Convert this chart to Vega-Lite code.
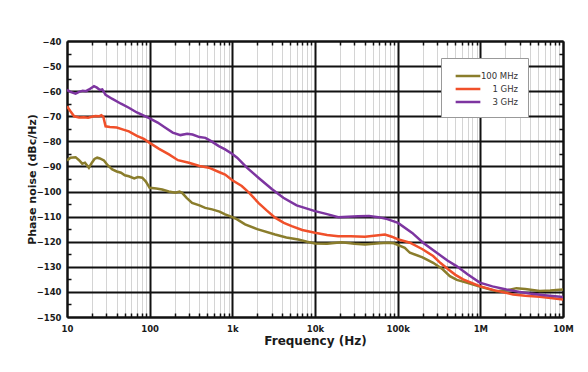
{
"$schema": "https://vega.github.io/schema/vega-lite/v6.json",
"width": 496, "height": 276,
"autosize": {"type": "none"},
"padding": {"left": 67, "top": 41, "right": 25, "bottom": 55},
"background": "white",
"config": {"font": "DejaVu Sans", "view": {"stroke": null}},
"data": {"values": [
{"s":"100 MHz","f":10,"p":-87.6},{"s":"100 MHz","f":11,"p":-86.5},{"s":"100 MHz","f":12.7,"p":-86.3},{"s":"100 MHz","f":14,"p":-87.5},{"s":"100 MHz","f":15.3,"p":-88.9},{"s":"100 MHz","f":16.5,"p":-88.5},{"s":"100 MHz","f":18.4,"p":-90.5},{"s":"100 MHz","f":20,"p":-88.5},{"s":"100 MHz","f":21.5,"p":-87},{"s":"100 MHz","f":23.2,"p":-86.5},{"s":"100 MHz","f":25,"p":-86.8},{"s":"100 MHz","f":28,"p":-87.6},{"s":"100 MHz","f":31,"p":-89.5},{"s":"100 MHz","f":35.3,"p":-91.2},{"s":"100 MHz","f":40,"p":-92},{"s":"100 MHz","f":45,"p":-92.5},{"s":"100 MHz","f":50,"p":-93.5},{"s":"100 MHz","f":56,"p":-93.9},{"s":"100 MHz","f":65,"p":-94.8},{"s":"100 MHz","f":72,"p":-94.2},{"s":"100 MHz","f":81.3,"p":-94.5},{"s":"100 MHz","f":90,"p":-96},{"s":"100 MHz","f":100,"p":-98.5},{"s":"100 MHz","f":120,"p":-98.8},{"s":"100 MHz","f":141.7,"p":-99.2},{"s":"100 MHz","f":170,"p":-100},{"s":"100 MHz","f":205,"p":-100.5},{"s":"100 MHz","f":230,"p":-100},{"s":"100 MHz","f":247,"p":-100.5},{"s":"100 MHz","f":280,"p":-102.5},{"s":"100 MHz","f":326,"p":-104.5},{"s":"100 MHz","f":400,"p":-105.5},{"s":"100 MHz","f":470,"p":-106.5},{"s":"100 MHz","f":569,"p":-107.1},{"s":"100 MHz","f":700,"p":-108},{"s":"100 MHz","f":818,"p":-109.1},{"s":"100 MHz","f":1000,"p":-110.2},{"s":"100 MHz","f":1143,"p":-111.1},{"s":"100 MHz","f":1426,"p":-113.1},{"s":"100 MHz","f":2000,"p":-115},{"s":"100 MHz","f":3290,"p":-117.1},{"s":"100 MHz","f":4500,"p":-118.3},{"s":"100 MHz","f":6280,"p":-119.1},{"s":"100 MHz","f":8000,"p":-120},{"s":"100 MHz","f":10000,"p":-120.7},{"s":"100 MHz","f":14000,"p":-120.8},{"s":"100 MHz","f":21000,"p":-120.2},{"s":"100 MHz","f":30000,"p":-120.8},{"s":"100 MHz","f":40200,"p":-121.1},{"s":"100 MHz","f":60000,"p":-120.6},{"s":"100 MHz","f":76900,"p":-120.4},{"s":"100 MHz","f":90000,"p":-120.6},{"s":"100 MHz","f":122000,"p":-122.4},{"s":"100 MHz","f":140600,"p":-124.4},{"s":"100 MHz","f":200000,"p":-126.2},{"s":"100 MHz","f":268700,"p":-128.4},{"s":"100 MHz","f":350000,"p":-131},{"s":"100 MHz","f":428000,"p":-133.7},{"s":"100 MHz","f":520000,"p":-135.2},{"s":"100 MHz","f":680000,"p":-136.3},{"s":"100 MHz","f":984000,"p":-137.9},{"s":"100 MHz","f":1570000,"p":-139.7},{"s":"100 MHz","f":2200000,"p":-139.2},{"s":"100 MHz","f":2730000,"p":-138.5},{"s":"100 MHz","f":3500000,"p":-138.8},{"s":"100 MHz","f":5230000,"p":-139.6},{"s":"100 MHz","f":7000000,"p":-139.4},{"s":"100 MHz","f":10000000,"p":-139},
{"s":"1 GHz","f":10,"p":-66},{"s":"1 GHz","f":11,"p":-68},{"s":"1 GHz","f":12.2,"p":-70},{"s":"1 GHz","f":14,"p":-70.5},{"s":"1 GHz","f":16,"p":-70.4},{"s":"1 GHz","f":18,"p":-70.6},{"s":"1 GHz","f":20,"p":-70.2},{"s":"1 GHz","f":22,"p":-69.9},{"s":"1 GHz","f":24.4,"p":-70},{"s":"1 GHz","f":26,"p":-69.6},{"s":"1 GHz","f":27.5,"p":-70.2},{"s":"1 GHz","f":29.3,"p":-74},{"s":"1 GHz","f":33,"p":-74.3},{"s":"1 GHz","f":40,"p":-74.5},{"s":"1 GHz","f":48,"p":-75.3},{"s":"1 GHz","f":56,"p":-76},{"s":"1 GHz","f":70,"p":-77.8},{"s":"1 GHz","f":85,"p":-79},{"s":"1 GHz","f":100,"p":-80.6},{"s":"1 GHz","f":130,"p":-83},{"s":"1 GHz","f":171,"p":-85.2},{"s":"1 GHz","f":220,"p":-87.5},{"s":"1 GHz","f":298,"p":-88.5},{"s":"1 GHz","f":400,"p":-89.8},{"s":"1 GHz","f":520,"p":-90.5},{"s":"1 GHz","f":700,"p":-92.3},{"s":"1 GHz","f":818,"p":-93.2},{"s":"1 GHz","f":1000,"p":-95.5},{"s":"1 GHz","f":1300,"p":-97.8},{"s":"1 GHz","f":1600,"p":-100.5},{"s":"1 GHz","f":2067,"p":-104.5},{"s":"1 GHz","f":2600,"p":-107.5},{"s":"1 GHz","f":3290,"p":-110.4},{"s":"1 GHz","f":4200,"p":-112.5},{"s":"1 GHz","f":5230,"p":-113.8},{"s":"1 GHz","f":7000,"p":-115.3},{"s":"1 GHz","f":10000,"p":-116.4},{"s":"1 GHz","f":14000,"p":-117.3},{"s":"1 GHz","f":19100,"p":-117.8},{"s":"1 GHz","f":27000,"p":-117.8},{"s":"1 GHz","f":40200,"p":-118},{"s":"1 GHz","f":55000,"p":-117.5},{"s":"1 GHz","f":70100,"p":-117.1},{"s":"1 GHz","f":85000,"p":-118},{"s":"1 GHz","f":100000,"p":-119},{"s":"1 GHz","f":122000,"p":-119.8},{"s":"1 GHz","f":140600,"p":-120.4},{"s":"1 GHz","f":200000,"p":-123},{"s":"1 GHz","f":268700,"p":-125.7},{"s":"1 GHz","f":330000,"p":-128.5},{"s":"1 GHz","f":408000,"p":-131},{"s":"1 GHz","f":500000,"p":-133.2},{"s":"1 GHz","f":619000,"p":-135},{"s":"1 GHz","f":800000,"p":-136.5},{"s":"1 GHz","f":984000,"p":-137.7},{"s":"1 GHz","f":1500000,"p":-139.4},{"s":"1 GHz","f":2490000,"p":-141},{"s":"1 GHz","f":3500000,"p":-141.5},{"s":"1 GHz","f":5230000,"p":-141.9},{"s":"1 GHz","f":7500000,"p":-142.5},{"s":"1 GHz","f":10000000,"p":-143},
{"s":"3 GHz","f":10,"p":-59.5},{"s":"3 GHz","f":11,"p":-60.3},{"s":"3 GHz","f":12.7,"p":-61},{"s":"3 GHz","f":14,"p":-60.3},{"s":"3 GHz","f":15.5,"p":-59.8},{"s":"3 GHz","f":17,"p":-60},{"s":"3 GHz","f":18.5,"p":-59.3},{"s":"3 GHz","f":21.2,"p":-58},{"s":"3 GHz","f":23,"p":-58.6},{"s":"3 GHz","f":25,"p":-59.5},{"s":"3 GHz","f":26.7,"p":-59.3},{"s":"3 GHz","f":29.3,"p":-61.5},{"s":"3 GHz","f":35,"p":-63},{"s":"3 GHz","f":45,"p":-65},{"s":"3 GHz","f":56,"p":-66.6},{"s":"3 GHz","f":70,"p":-68.5},{"s":"3 GHz","f":100,"p":-70.8},{"s":"3 GHz","f":125,"p":-72.5},{"s":"3 GHz","f":155,"p":-74.6},{"s":"3 GHz","f":190,"p":-76.5},{"s":"3 GHz","f":236,"p":-77.5},{"s":"3 GHz","f":284,"p":-77},{"s":"3 GHz","f":330,"p":-77.3},{"s":"3 GHz","f":400,"p":-78.3},{"s":"3 GHz","f":473,"p":-78.6},{"s":"3 GHz","f":560,"p":-80},{"s":"3 GHz","f":686,"p":-81.9},{"s":"3 GHz","f":818,"p":-83.2},{"s":"3 GHz","f":1000,"p":-85},{"s":"3 GHz","f":1143,"p":-86.5},{"s":"3 GHz","f":1500,"p":-90.5},{"s":"3 GHz","f":2067,"p":-94.5},{"s":"3 GHz","f":3000,"p":-99},{"s":"3 GHz","f":4140,"p":-102.5},{"s":"3 GHz","f":6000,"p":-105.5},{"s":"3 GHz","f":10000,"p":-107.8},{"s":"3 GHz","f":14000,"p":-109},{"s":"3 GHz","f":19100,"p":-110.2},{"s":"3 GHz","f":25000,"p":-110},{"s":"3 GHz","f":33300,"p":-109.8},{"s":"3 GHz","f":45000,"p":-109.7},{"s":"3 GHz","f":58200,"p":-110.2},{"s":"3 GHz","f":75000,"p":-111},{"s":"3 GHz","f":101000,"p":-112.5},{"s":"3 GHz","f":150000,"p":-116.5},{"s":"3 GHz","f":203000,"p":-120.4},{"s":"3 GHz","f":300000,"p":-124.5},{"s":"3 GHz","f":400000,"p":-127.5},{"s":"3 GHz","f":515000,"p":-129.7},{"s":"3 GHz","f":700000,"p":-133},{"s":"3 GHz","f":984000,"p":-136.3},{"s":"3 GHz","f":1400000,"p":-137.8},{"s":"3 GHz","f":2070000,"p":-139},{"s":"3 GHz","f":3000000,"p":-140},{"s":"3 GHz","f":3960000,"p":-140.6},{"s":"3 GHz","f":6000000,"p":-141.3},{"s":"3 GHz","f":10000000,"p":-142}
]},
"layer": [
{"mark": {"type": "point", "opacity": 0},
 "encoding": {
  "x": {"field": "f", "type": "quantitative", "scale": {"type": "log", "domain": [10, 10000000], "nice": false},
   "axis": {"orient": "bottom", "values": [20,30,40,50,60,70,80,90,200,300,400,500,600,700,800,900,2000,3000,4000,5000,6000,7000,8000,9000,20000,30000,40000,50000,60000,70000,80000,90000,200000,300000,400000,500000,600000,700000,800000,900000,2000000,3000000,4000000,5000000,6000000,7000000,8000000,9000000],
    "grid": true, "gridColor": "#d4d4d4", "gridWidth": 1, "labels": false, "ticks": true, "tickSize": -4, "tickColor": "#111", "tickWidth": 1.5, "domain": false, "title": null}},
  "y": {"field": "p", "type": "quantitative", "scale": {"domain": [-150, -40], "nice": false, "zero": false},
   "axis": {"orient": "left", "values": [-145,-135,-125,-115,-105,-95,-85,-75,-65,-55,-45], "grid": false, "labels": false, "ticks": true, "tickSize": -4, "tickColor": "#111", "tickWidth": 1.5, "domain": false, "title": null}}
 }},
{"mark": {"type": "point", "opacity": 0},
 "encoding": {
  "x": {"field": "f", "type": "quantitative", "scale": {"type": "log", "domain": [10, 10000000], "nice": false},
   "axis": {"orient": "top", "values": [20,30,40,50,60,70,80,90,200,300,400,500,600,700,800,900,2000,3000,4000,5000,6000,7000,8000,9000,20000,30000,40000,50000,60000,70000,80000,90000,200000,300000,400000,500000,600000,700000,800000,900000,2000000,3000000,4000000,5000000,6000000,7000000,8000000,9000000],
    "grid": false, "labels": false, "ticks": true, "tickSize": -4, "tickColor": "#111", "tickWidth": 1.5, "domain": true, "domainColor": "#111", "domainWidth": 2, "title": null}},
  "y": {"field": "p", "type": "quantitative", "scale": {"domain": [-150, -40], "nice": false, "zero": false},
   "axis": {"orient": "right", "values": [-145,-135,-125,-115,-105,-95,-85,-75,-65,-55,-45], "grid": false, "labels": false, "ticks": true, "tickSize": -4, "tickColor": "#111", "tickWidth": 1.5, "domain": true, "domainColor": "#111", "domainWidth": 2, "title": null}}
 }},
{"mark": {"type": "line", "strokeWidth": 2.5, "clip": true},
 "encoding": {
  "x": {"field": "f", "type": "quantitative", "scale": {"type": "log", "domain": [10, 10000000], "nice": false},
   "axis": {"orient": "bottom", "values": [10,100,1000,10000,100000,1000000,10000000],
    "labelExpr": "datum.value >= 1000000 ? (datum.value/1000000) + 'M' : datum.value >= 1000 ? (datum.value/1000) + 'k' : '' + datum.value",
    "grid": true, "gridColor": "#111", "gridWidth": 2, "ticks": false, "domain": true, "domainColor": "#111", "domainWidth": 2,
    "labelFlush": false, "labelOverlap": false, "labelBound": false, "labelFontSize": 8.5, "labelFontWeight": "bold", "labelColor": "#1a1a1a", "labelPadding": 7,
    "title": "Frequency (Hz)", "titleFontSize": 12, "titleFontWeight": "bold", "titleColor": "#1a1a1a", "titlePadding": 3}},
  "y": {"field": "p", "type": "quantitative", "scale": {"domain": [-150, -40], "nice": false, "zero": false},
   "axis": {"orient": "left", "values": [-150,-140,-130,-120,-110,-100,-90,-80,-70,-60,-50,-40],
    "grid": true, "gridColor": "#111", "gridWidth": 2, "ticks": false, "domain": true, "domainColor": "#111", "domainWidth": 2,
    "labelFontSize": 8.5, "labelFontWeight": "bold", "labelColor": "#1a1a1a", "labelPadding": 6,
    "title": "Phase noise (dBc/Hz)", "titleFontSize": 11, "titleFontWeight": "bold", "titleColor": "#1a1a1a", "titlePadding": -1}},
  "color": {"field": "s", "type": "nominal", "scale": {"domain": ["100 MHz", "1 GHz", "3 GHz"], "range": ["#8a7d2c", "#f0502a", "#7d35a0"]},
   "legend": {"orient": "none", "legendX": 374, "legendY": 17, "title": null, "fillColor": "white", "strokeColor": "#999999", "padding": 10,
    "symbolType": "M-1.9,0H1.9", "symbolStrokeWidth": 2.5, "symbolSize": 169, "symbolOffset": 9, "rowPadding": 0,
    "labelAlign": "right", "labelFontSize": 8.5, "labelColor": "#333333", "labelOffset": 42, "labelLimit": 80}}
 }}
],
"resolve": {"axis": {"x": "independent", "y": "independent"}}
}
